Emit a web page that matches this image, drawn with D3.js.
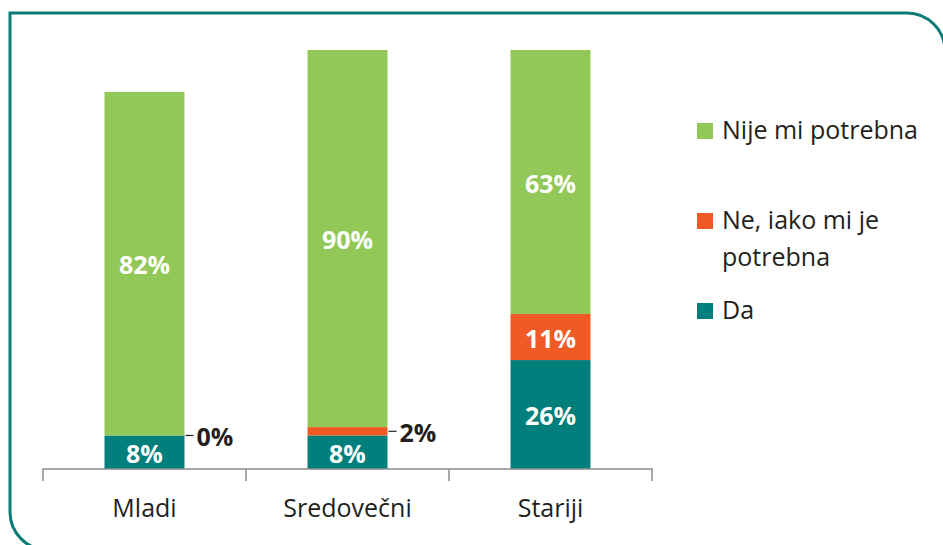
<!DOCTYPE html>
<html>
<head>
<meta charset="utf-8">
<script src="https://cdn.jsdelivr.net/npm/d3@7"></script>
<style>
  body { margin: 0; background: #fff; }
  svg text { font-family: "Open Sans", Lato, sans-serif; }
</style>
</head>
<body>
<div id="chart"></div>
<script>
// categories and series (percent)
var categories = ["Mladi", "Sredovečni", "Stariji"];
var seriesNames = ["Da", "Ne, iako mi je potrebna", "Nije mi potrebna"];
var daValues = [8, 8, 26];
var neValues = [0, 2, 11];
var nijeValues = [82, 90, 63];

var colors = ["#007f7c", "#f15a24", "#92c857"];

var width = 943, height = 545;

var svg = d3.select("#chart")
  .append("svg")
    .attr("width", width)
    .attr("height", height);

// frame with rounded top-right and bottom-left corners
var fx0 = 10, fy0 = 13, fx1 = 945, fy1 = 550, r = 38;
svg.append("path")
  .attr("d", "M" + fx0 + "," + fy0 +
    " H" + (fx1 - r) +
    " A" + r + "," + r + " 0 0 1 " + fx1 + "," + (fy0 + r) +
    " V" + fy1 +
    " H" + (fx0 + r) +
    " A" + r + "," + r + " 0 0 1 " + fx0 + "," + (fy1 - r) +
    " Z")
  .attr("fill", "none")
  .attr("stroke", "#0b7b78")
  .attr("stroke-width", 3);

// stack the data
var rows = categories.map(function(c, i) {
  return { cat: c, "Da": daValues[i], "Ne, iako mi je potrebna": neValues[i], "Nije mi potrebna": nijeValues[i] };
});
var stacked = d3.stack().keys(seriesNames)(rows);

var x = d3.scaleBand()
  .domain(categories)
  .range([43, 652])
  .paddingInner(0.606)
  .paddingOuter(0.303);

var y = d3.scaleLinear()
  .domain([0, 100])
  .range([469, 50]);

// bars
var groups = svg.selectAll("g.layer")
  .data(stacked)
  .enter()
  .append("g")
    .attr("class", "layer")
    .attr("fill", function(d, i) { return colors[i]; });

groups.selectAll("rect")
  .data(function(d) { return d; })
  .enter()
  .append("rect")
    .attr("x", function(d) { return x(d.data.cat); })
    .attr("y", function(d) { return y(d[1]); })
    .attr("width", x.bandwidth())
    .attr("height", function(d) { return y(d[0]) - y(d[1]); });

// value labels
stacked.forEach(function(layer) {
  layer.forEach(function(d) {
    var v = d[1] - d[0];
    var cy = (y(d[0]) + y(d[1])) / 2;
    if (v >= 5) {
      svg.append("text")
        .attr("x", x(d.data.cat) + x.bandwidth() / 2)
        .attr("y", cy + 2)
        .attr("dy", "0.35em")
        .attr("text-anchor", "middle")
        .attr("fill", "#fff")
        .style("font-weight", "bold")
        .style("font-size", "25px")
        .text(v + "%");
    } else {
      var bx = x(d.data.cat) + x.bandwidth();
      svg.append("line")
        .attr("x1", bx + 1).attr("x2", bx + 9)
        .attr("y1", cy).attr("y2", cy)
        .attr("stroke", "#231f20")
        .attr("stroke-width", 1.2);
      svg.append("text")
        .attr("x", bx + 12)
        .attr("y", cy + 2)
        .attr("dy", "0.35em")
        .attr("fill", "#231f20")
        .style("font-weight", "bold")
        .style("font-size", "25px")
        .text(v + "%");
    }
  });
});

// x axis: baseline with boundary ticks
var x0 = x.range()[0], step = x.step();
var axisD = "M" + x0 + ",481 V469";
for (var i = 1; i <= categories.length; i++) {
  axisD += " H" + (x0 + i * step) + " V481 M" + (x0 + i * step) + ",469";
}
svg.append("path")
  .attr("d", axisD)
  .attr("fill", "none")
  .attr("stroke", "#8c8c8c")
  .attr("stroke-width", 1.5);

var xAxis = svg.append("g")
  .attr("transform", "translate(0,469)")
  .call(d3.axisBottom(x).tickSize(0).tickPadding(30));
xAxis.select(".domain").remove();
xAxis.selectAll("text")
  .attr("fill", "#231f20")
  .style("font-size", "25px");

// legend
var legendItems = [
  { name: ["Nije mi potrebna"], color: colors[2], y: 131 },
  { name: ["Ne, iako mi je", "potrebna"], color: colors[1], y: 221 },
  { name: ["Da"], color: colors[0], y: 311 }
];
var legend = svg.selectAll("g.legend")
  .data(legendItems)
  .enter()
  .append("g")
    .attr("class", "legend");

legend.append("rect")
  .attr("x", 697)
  .attr("y", function(d) { return d.y - 8; })
  .attr("width", 16)
  .attr("height", 16)
  .attr("fill", function(d) { return d.color; });

legend.append("text")
  .attr("x", 722)
  .attr("y", function(d) { return d.y + 8; })
  .attr("fill", "#231f20")
  .style("font-size", "25px")
  .selectAll("tspan")
  .data(function(d) { return d.name; })
  .enter()
  .append("tspan")
    .attr("x", 722)
    .attr("dy", function(d, i) { return i === 0 ? 0 : 37; })
    .text(function(d) { return d; });
</script>
</body>
</html>
